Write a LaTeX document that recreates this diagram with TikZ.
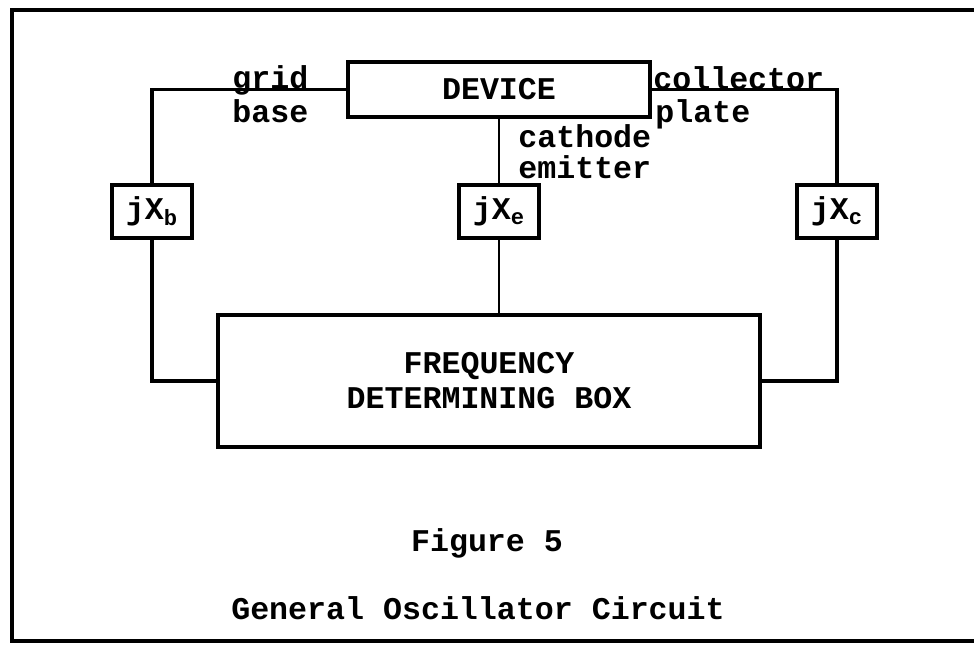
\documentclass[tikz,border=0pt]{standalone}
\usepackage{fontspec}
\setmonofont{Liberation Mono}
\usetikzlibrary{positioning}

\begin{document}
\begin{tikzpicture}[x=0.02cm, y=-0.02cm,
		tw/.style={font=\ttfamily\bfseries\fontsize{18}{20}\selectfont},
		box/.style={draw, tw, line width=2.2pt, inner sep=0pt},
		zbox/.style={box, minimum width=1.6cm, minimum height=1.06cm},
		wire/.style={line width=2.2pt},
		lbl/.style={tw, inner sep=0pt, anchor=base west}]
	%--- frame (right edge runs off the page) ---
	\clip (0,0) rectangle (974,648);
	\draw[line width=1.8pt] (12,10) rectangle (1000,641);
	%--- blocks ---
	\node[box, minimum width=6.04cm, minimum height=1.1cm] (device) at (499,89.5) {DEVICE};
	\node[zbox] (xb) at (152,211.5) {jX\textsubscript{b}};
	\node[zbox] (xe) at (499,211.5) {jX\textsubscript{e}};
	\node[zbox] (xc) at (837,211.5) {jX\textsubscript{c}};
	\node[box, minimum width=10.84cm, minimum height=2.64cm, align=center] (fdb) at (489,381)
	{FREQUENCY\\DETERMINING BOX};
	%--- wiring ---
	\draw[wire] (device.west) -| (xb.north);
	\draw[wire] (device.east) -| (xc.north);
	\draw[wire, line width=1.6pt] (device.south -| xe) -- (xe.north);
	\draw[wire, line width=1.6pt] (xe.south) -- (xe.south |- fdb.north);
	\draw[wire] (xb.south) |- (fdb.west);
	\draw[wire] (xc.south) |- (fdb.east);
	%--- terminal names ---
	\node[lbl] (grid) at (232,89) {grid};
	\node[lbl] (base) at (232,123) {base};
	\node[lbl] (coll) at (653,90) {collector};
	\node[lbl] (plate) at (655,123) {plate};
	\node[lbl] (cath) at (518,148) {cathode};
	\node[lbl] (emit) at (518,179) {emitter};
	%--- caption ---
	\node[tw] (fig) at (487,543) {Figure 5};
	\node[tw] (title) at (478,608) {General Oscillator Circuit};
\end{tikzpicture}
\end{document}
